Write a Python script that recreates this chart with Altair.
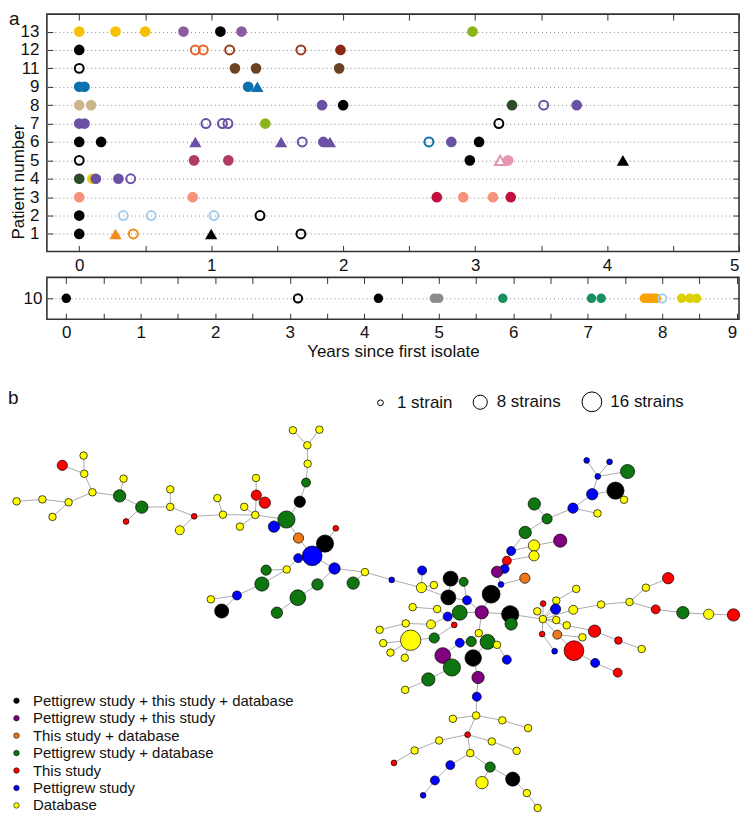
import altair as alt
import pandas as pd

FONT = "Liberation Sans"

# ---------------- colours used in panel a ----------------
K = "#000000"; GOLD = "#F6C100"; PUR13 = "#8D5B9F"; LIME = "#8DB51B"
ORR = "#E4632C"; RUST = "#9B3A1C"; RUSTF = "#8A2A16"; BRN = "#6B4324"
BLU = "#0B70AE"; TAN = "#CBB68C"; VIO = "#6A51A3"; DGR = "#2E4B2C"
ROSE = "#B23B63"; PINK = "#E694B1"; SAL = "#F7937C"; CRIM = "#C30F3D"
LBL = "#A6CDEB"; ORG = "#F38A1A"; YEL4 = "#E6D21D"
GRY = "#8C8C8C"; GRN = "#16905C"; ORA = "#F7A200"; YEL10 = "#DCD000"

# ---------------- panel a: patients (except 10) ----------------
row_order = ["13", "12", "11", "9", "8", "7", "6", "5", "4", "3", "2", "1"]

a_patient = (["13"] * 7 + ["12"] * 6 + ["11"] * 4 + ["9"] * 4 + ["8"] * 7 + ["7"] * 7
             + ["6"] * 10 + ["5"] * 7 + ["4"] * 5 + ["3"] * 6 + ["2"] * 5 + ["1"] * 5)
a_years = [
    0.00, 0.275, 0.50, 0.79, 1.07, 1.23, 2.98,
    0.00, 0.88, 0.94, 1.14, 1.68, 1.98,
    0.00, 1.18, 1.34, 1.97,
    0.00, 0.04, 1.28, 1.35,
    0.00, 0.09, 1.84, 2.00, 3.28, 3.52, 3.77,
    0.00, 0.04, 0.96, 1.085, 1.127, 1.41, 3.18,
    0.00, 0.166, 0.88, 1.53, 1.69, 1.85, 1.90, 2.65, 2.82, 3.03,
    0.00, 0.87, 1.13, 2.96, 3.19, 3.25, 4.12,
    0.00, 0.10, 0.126, 0.297, 0.39,
    0.00, 0.86, 2.71, 2.91, 3.135, 3.27,
    0.00, 0.334, 0.545, 1.02, 1.37,
    0.00, 0.275, 0.41, 1.00, 1.68,
]
a_color = [
    GOLD, GOLD, GOLD, PUR13, K, PUR13, LIME,
    K, ORR, ORR, RUST, RUST, RUSTF,
    K, BRN, BRN, BRN,
    BLU, BLU, BLU, BLU,
    TAN, TAN, VIO, K, DGR, VIO, VIO,
    VIO, VIO, VIO, VIO, VIO, LIME, K,
    K, K, VIO, VIO, VIO, VIO, VIO, BLU, VIO, K,
    K, ROSE, ROSE, K, PINK, PINK, K,
    DGR, YEL4, VIO, VIO, VIO,
    SAL, SAL, CRIM, SAL, SAL, CRIM,
    K, LBL, LBL, LBL, K,
    K, ORG, ORG, K, K,
]
# fc filled circle, oc open circle, ft filled triangle, ot open triangle
a_marker = [
    "fc", "fc", "fc", "fc", "fc", "fc", "fc",
    "fc", "oc", "oc", "oc", "oc", "fc",
    "oc", "fc", "fc", "fc",
    "fc", "fc", "fc", "ft",
    "fc", "fc", "fc", "fc", "fc", "oc", "fc",
    "fc", "fc", "oc", "oc", "oc", "fc", "oc",
    "fc", "fc", "ft", "ft", "oc", "fc", "ft", "oc", "fc", "fc",
    "oc", "fc", "fc", "fc", "ot", "fc", "ft",
    "fc", "fc", "fc", "fc", "oc",
    "fc", "fc", "fc", "fc", "fc", "fc",
    "fc", "oc", "oc", "oc", "oc",
    "fc", "ft", "oc", "ft", "oc",
]

# ---------------- panel a: patient 10 ----------------
p10_years = [0.00, 3.11, 4.19, 4.94, 5.00, 5.86, 7.05, 7.18, 7.76, 7.80, 7.84, 7.88, 7.92,
             8.00, 8.26, 8.37, 8.46]
p10_color = [K, K, K, GRY, GRY, GRN, GRN, GRN, ORA, ORA, ORA, ORA, ORA, LBL, YEL10, YEL10, YEL10]
p10_marker = ["fc", "oc", "fc", "fc", "fc", "fc", "fc", "fc", "fc", "fc", "fc", "fc", "fc",
              "oc", "fc", "fc", "fc"]

# ---------------- panel b: network ----------------
cat_codes = ["K", "P", "O", "G", "R", "B", "Y"]
cat_names = ["Pettigrew study + this study + database", "Pettigrew study + this study",
             "This study + database", "Pettigrew study + database", "This study",
             "Pettigrew study", "Database"]
cat_colors = ["#000000", "#800080", "#F07818", "#0E760E", "#FF0000", "#0000FF", "#FFFF00"]

net_cat = list("YYYYYYYRGYGRYYYRYYYYYYRRGBKGYYYYOKRBBBYGYGGGGBYKG"
               "BBBGBKYBYGGGYPYBRBPOBK"
               "BBYYKGKBPGBYYYYYRGYYYYPGBGGYKBKGYPGYB"
               "YYYYRYYRYYYBBBGYKYY"
               "YRYYBYYYYROYBRBRRRYYYYRRGYR")
net_x = [12.7, 39, 65.7, 49.3, 90, 81.7, 81, 59.3, 117.7, 121.7, 140.3, 124.3, 169.3, 169.3,
         179, 193.7, 217.3, 223, 244.7, 256, 240.3, 256.7, 257, 265.7, 287.7, 275, 301.3,
         307.7, 309.3, 309, 294.3, 321.3, 300, 327, 338, 314, 299.7, 336.7, 367.7, 267, 288,
         262.7, 319.3, 355.7, 299.3, 237.3, 210.7, 221.7, 278,
         593.7, 617, 605, 635.3, 599.3, 623, 631.7, 579.7, 604.7, 540.3, 553.3, 531, 540,
         566.7, 540, 516.7, 512.3, 510, 502.3, 530.7, 506.3, 496.3,
         395, 426, 425.3, 438, 455, 468.3, 452.7, 471.7, 486.7, 464.3, 452, 416.3, 441.3,
         409.3, 435, 382.7, 458.7, 438.3, 414.3, 386.3, 393.7, 408.3, 447, 456.3, 464.3, 476,
         492.7, 502.3, 478, 512.3, 515.7, 516.7, 483.7, 483, 432.3, 408.7, 481.7,
         481, 457.3, 507.7, 534, 472.3, 443.3, 418.3, 397.3, 497, 522.3, 475, 454.7, 439, 427,
         495.3, 487, 518.3, 532.7, 543.7,
         549, 549.3, 543.3, 562.7, 562, 583, 580, 562.7, 573.3, 548.3, 563.7, 589.3, 561,
         580.7, 602.3, 625.3, 601.7, 626, 649.7, 608.3, 637.3, 654, 676.7, 664, 691.7, 718,
         743.3]
net_y = [503.3, 501.3, 504.3, 519.3, 494, 475, 456.3, 466.3, 497.7, 480, 509.3, 524, 491, 509,
         533, 518.7, 500, 517, 509, 517.3, 529.3, 479.3, 497, 504.7, 522, 529.3, 503.7, 484,
         464.7, 445.7, 430.3, 429.7, 541, 546.7, 531, 559.3, 561.7, 572.3, 576, 574, 573.3,
         588.3, 588.7, 587.3, 602.3, 600, 604, 616, 617.7,
         461.3, 462.7, 477.7, 472.7, 496, 492.3, 501.7, 510.3, 515.7, 506, 521.3, 535.3,
         548.7, 543.7, 559.3, 554.3, 564.3, 572.7, 575.7, 582.3, 588.7, 598.7,
         584, 574.3, 592, 589.3, 582.7, 586, 602, 605, 617.3, 617.7, 621.7, 612, 614, 628.7,
         629.7, 635.3, 630.3, 643.7, 646, 649, 658.7, 664, 661.7, 674, 648.7, 647.3, 647.7,
         650.7, 664.3, 666, 619.3, 629.3, 638.7, 684.3, 686.3, 697, 704,
         723.3, 726.7, 728.3, 736.3, 743, 749, 759.3, 772, 750, 759.7, 762, 774.3, 790, 805.3,
         776.3, 792.3, 788.7, 803, 818.3,
         624.3, 608.3, 616.3, 605.3, 614, 593.3, 614.7, 625.3, 630.7, 639.7, 640.3, 643, 657.3,
         656.7, 669.3, 679.3, 636.7, 646.3, 655, 609.3, 606.7, 592, 582.3, 614.3, 617.7,
         619.3, 620]
net_strains = [2, 2, 2, 2, 2, 2, 2, 4, 6, 2, 6, 1, 2, 2, 3, 1, 2, 2, 2, 2, 2, 2, 4, 5, 12, 5, 5,
               3, 2, 2, 2, 2, 4, 12, 1, 16, 3, 5, 2, 4, 2, 8, 5, 6, 10, 3, 2, 8, 5,
               1, 1, 1, 8, 5, 12, 2, 4, 2, 6, 4, 6, 5, 7, 4, 3, 3, 3, 5, 4, 1, 13,
               1, 3, 4, 2, 9, 3, 9, 3, 7, 9, 3, 2, 2, 2, 3, 2, 1, 4, 17, 2, 2, 2, 10, 12, 3, 4,
               9, 2, 11, 3, 12, 6, 2, 6, 7, 2, 3,
               2, 2, 2, 2, 1, 2, 2, 1, 2, 2, 2, 3, 3, 1, 4, 6, 8, 2, 2,
               2, 1, 2, 2, 4, 2, 3, 2, 2, 1, 3, 2, 1, 16, 3, 3, 6, 2, 2, 2, 2, 2, 5, 3, 6, 4, 6]

edge_from = [0, 1, 2, 2, 4, 5, 5, 4, 8, 8, 10, 10, 13, 13, 15, 15, 17, 17, 19, 19, 19, 22, 22,
             19, 24, 24, 26, 27, 28, 29, 29, 24, 32, 35, 33, 35, 35, 37, 36, 40, 40, 41, 45, 45,
             37, 42, 44, 38,
             38, 71, 73, 73, 73, 77, 77, 76, 78, 70, 79, 79, 79, 80, 81, 83, 81, 85, 84, 81, 87,
             88, 89, 89, 89, 103, 96, 95, 93, 103, 97, 98, 97, 99, 104, 94, 105, 101, 101,
             70, 69, 67, 66, 65, 64, 64, 61, 65, 69, 60, 59, 59, 56, 56, 53, 54, 53, 51, 51, 51,
             107, 108, 108, 110, 108, 112, 113, 114, 112, 116, 112, 118, 119, 120, 118, 122,
             122, 124, 125,
             127, 127, 127, 130, 127, 127, 133, 146, 147, 148, 147, 150, 151, 152, 127, 127, 135,
             143, 144, 127, 136, 127, 137, 137, 140, 141]
edge_to = [1, 2, 3, 4, 5, 6, 7, 8, 9, 10, 11, 13, 12, 15, 14, 17, 16, 19, 18, 20, 22, 21, 23,
           24, 25, 26, 27, 28, 29, 30, 31, 32, 35, 33, 34, 36, 37, 38, 40, 39, 41, 45, 46, 47,
           42, 44, 48, 43,
           71, 73, 72, 74, 77, 75, 78, 78, 79, 79, 80, 101, 103, 81, 83, 82, 85, 84, 86, 87, 88,
           89, 90, 91, 92, 96, 95, 93, 94, 97, 98, 100, 99, 104, 107, 105, 106, 102, 127,
           69, 67, 66, 65, 64, 60, 61, 62, 63, 68, 59, 58, 56, 57, 53, 54, 55, 51, 49, 50, 52,
           108, 109, 110, 111, 112, 113, 114, 115, 116, 117, 118, 119, 120, 121, 122, 123,
           124, 125, 126,
           128, 129, 130, 132, 131, 133, 146, 147, 148, 149, 150, 151, 152, 153, 134, 135, 143,
           144, 145, 136, 139, 137, 138, 140, 141, 142]

# ======================================================================
half_ticks_5 = [i * 0.5 for i in range(11)]
half_ticks_9 = [i * 0.5 for i in range(19)]
LABEL_EXPR = "datum.value % 1 == 0 ? format(datum.value, 'd') : ''"


def marker_frame(patients, years, colors, markers):
    return pd.DataFrame({
        "patient": patients,
        "years": years,
        "color": colors,
        "shape": ["triangle" if m[1] == "t" else "circle" for m in markers],
        "filled": [m[0] == "f" for m in markers],
    })


def timeline(df, rows, xdom, ticks, width, height, pad, xtitle, yaxis_extra, fsize, osize,
             panel_label, label_pad):
    xs = alt.Scale(domain=xdom, nice=False, zero=False)
    ys = alt.Scale(type="point", domain=rows, padding=pad)
    common_x = dict(values=ticks, offset=-6, tickSize=6, tickColor="#333", domain=False,
                    grid=False, labelFontSize=17, labelPadding=label_pad, labelFlush=3,
                    labelOverlap=False, labelColor="#111", labelFont=FONT,
                    labelExpr=LABEL_EXPR)
    if xtitle:
        xaxis = alt.Axis(title=xtitle, titleFontSize=17, titleFontWeight="normal",
                         titlePadding=3, titleColor="#111", titleFont=FONT, **common_x)
    else:
        xaxis = alt.Axis(title=None, **common_x)
    yaxis = alt.Axis(offset=-6, tickSize=6, tickColor="#333", domain=False, grid=True,
                     gridDash=[1, 3], gridColor="#8a8a8a", labelFontSize=17,
                     labelColor="#111", labelFont=FONT, **yaxis_extra)
    shape = alt.Shape("shape:N", scale=alt.Scale(domain=["circle", "triangle"],
                                                  range=["circle", "triangle-up"]), legend=None)
    color = alt.Color("color:N", scale=None)
    base = alt.Chart(df)
    filled = base.transform_filter("datum.filled").mark_point(filled=True, opacity=1).encode(
        x=alt.X("years:Q", scale=xs, axis=xaxis),
        y=alt.Y("patient:N", scale=ys, axis=yaxis),
        shape=shape, color=color,
        size=alt.condition("datum.shape == 'triangle'", alt.value(fsize + 35), alt.value(fsize)),
    )
    hollow = base.transform_filter("!datum.filled").mark_point(
        filled=False, opacity=1, strokeWidth=2).encode(
        x=alt.X("years:Q", scale=xs, axis=None),
        y=alt.Y("patient:N", scale=ys, axis=None),
        shape=shape, color=color,
        size=alt.condition("datum.shape == 'triangle'", alt.value(osize + 30), alt.value(osize)),
    )
    frame_ticks = base.mark_point(opacity=0).encode(
        x=alt.X("years:Q", scale=xs, axis=alt.Axis(orient="top", values=ticks, labels=False,
                                                   offset=-6, tickSize=6, tickColor="#333",
                                                   domain=False, grid=False, title=None,
                                                   minExtent=0, maxExtent=0)),
        y=alt.Y("patient:N", scale=ys, axis=alt.Axis(orient="right", labels=False, offset=-6,
                                                    tickSize=6, tickColor="#333",
                                                    domain=False, grid=False, title=None,
                                                    minExtent=0, maxExtent=0)),
    )
    layers = [filled, hollow, frame_ticks]
    if panel_label:
        layers.append(
            alt.Chart(pd.DataFrame({"t": [panel_label]})).mark_text(
                align="left", baseline="top", fontSize=19, font=FONT, color="#111"
            ).encode(text="t:N", x=alt.value(-38), y=alt.value(-4))
        )
    return alt.layer(*layers).resolve_axis(x="independent", y="independent").properties(
        width=width, height=height,
        view=alt.ViewBackground(stroke="#333", strokeWidth=1.6),
    )


df_a = marker_frame(a_patient, a_years, a_color, a_marker)
df_10 = marker_frame(["10"] * len(p10_years), p10_years, p10_color, p10_marker)

panel_top = timeline(
    df_a, row_order, [-0.245, 5.0], half_ticks_5, 694, 238, 0.95, None,
    dict(labelPadding=8, title="Patient number", titleFontSize=17, titleFontWeight="normal",
         titleColor="#111", titleFont=FONT, titleX=-25, titleY=168, titleAnchor="middle"),
    115, 80, "a", 6)

panel_10 = timeline(
    df_10, ["10"], [-0.26, 9.03], half_ticks_9, 694, 42, 0.5, "Years since first isolate",
    dict(labelPadding=5, title=None, minExtent=42),
    90, 70, None, 5)

# ---------------- network ----------------
nodes = pd.DataFrame({
    "x": net_x, "y": net_y,
    "category": [cat_names[cat_codes.index(c)] for c in net_cat],
    "strains": net_strains,
})
edges = pd.DataFrame({
    "x1": [net_x[i] for i in edge_from], "y1": [net_y[i] for i in edge_from],
    "x2": [net_x[j] for j in edge_to], "y2": [net_y[j] for j in edge_to],
})

nx = alt.Scale(domain=[43.6, 748.9], nice=False, zero=False)
ny = alt.Scale(domain=[815.2, 360.3], nice=False, zero=False)

edge_layer = alt.Chart(edges).mark_rule(color="#ABABAB", strokeWidth=1).encode(
    x=alt.X("x1:Q", scale=nx, axis=None), y=alt.Y("y1:Q", scale=ny, axis=None),
    x2="x2:Q", y2="y2:Q")

node_layer = alt.Chart(nodes).mark_circle(opacity=1, stroke="black", strokeWidth=0.7).encode(
    x=alt.X("x:Q", scale=nx, axis=None),
    y=alt.Y("y:Q", scale=ny, axis=None),
    size=alt.Size("strains:Q", scale=alt.Scale(domain=[0, 16], range=[9, 393]),
                  legend=alt.Legend(title=None, orient="none", legendX=326, legendY=378,
                                    direction="horizontal", values=[1, 8, 16],
                                    labelExpr="datum.value == 1 ? '1 strain' : datum.value + ' strains'",
                                    symbolFillColor="white", symbolStrokeColor="black",
                                    symbolStrokeWidth=1, symbolType="circle",
                                    labelFontSize=17, labelFont=FONT, labelColor="#111",
                                    labelOffset=8, columnPadding=18)),
    color=alt.Color("category:N", scale=alt.Scale(domain=cat_names, range=cat_colors),
                    legend=alt.Legend(title=None, orient="none", legendX=-38, legendY=681,
                                      symbolType="circle", symbolSize=30,
                                      symbolStrokeColor="black", symbolStrokeWidth=0.6,
                                      labelFontSize=15, labelFont=FONT, labelColor="#111",
                                      labelLimit=400, rowPadding=1.5, labelOffset=9)),
)

b_label = alt.Chart(pd.DataFrame({"t": ["b"]})).mark_text(
    align="left", baseline="middle", fontSize=19, font=FONT, color="#111"
).encode(text="t:N", x=alt.value(-39), y=alt.value(36))

network = alt.layer(edge_layer, node_layer, b_label).properties(width=694, height=444)

top = alt.vconcat(panel_top, panel_10, spacing=1)
chart = alt.vconcat(top, network, spacing=2).properties(
    padding={"left": 0, "top": 0, "right": 0, "bottom": 0}
).configure(font=FONT).configure_view(strokeWidth=0)

chart.save("out.html", embed_options={"renderer": "svg", "actions": False})
